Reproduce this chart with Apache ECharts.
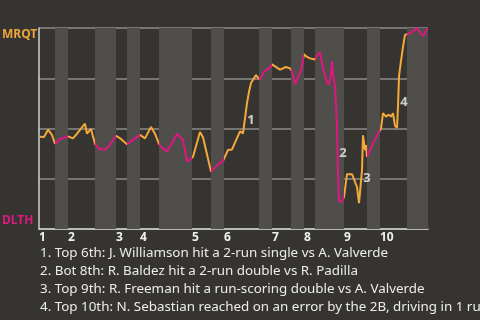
<!DOCTYPE html>
<html><head><meta charset="utf-8">
<script src="https://cdn.jsdelivr.net/npm/echarts@6/dist/echarts.min.js"></script>
<style>html,body{margin:0;padding:0;background:#363430;}#c{width:480px;height:320px;}</style>
</head><body><div id="c"></div>
<script>
// half-inning boundaries along game progress (top1, bot1, top2, ...)
var halfBounds = [0, 16, 29, 56, 77, 88, 101, 120, 153, 172, 185, 220, 233, 252, 265, 276, 305, 328, 341, 368, 389];
var inningLabels = ['1','2','3','4','5','6','7','8','9','10'];
// win probability for MRQT (%) along game progress
var progress = [1,5,9,13,16,21,29,34,38,46,48,52,56,60,66,70,77,82,88,96,101,106,112,116,120,122,128,132,138,144,148,151,154,161,164,172,178,184,189,193,201,204,206,208,210,212,217,219,221,225,231,233,241,247,251,253,256,258,262,265,268,271,276,278,281,284,288,290,292,293,294,296,298,299,300,302,305,308,313,318,320,322,323,324,326,327,328,334,342,344,347,350,352,354,356,358,359,360,362,364,366,368,372,378,384,389];
var winProb = [45.9,45.8,49.4,46.8,42.4,44.8,46.1,45.1,47.4,52.4,47.4,49.8,42.4,39.8,39.4,41.4,46.4,44.8,42.1,45.1,46.8,45.1,50.8,47.4,42.4,40.8,38.6,41.9,47.3,44.3,33.6,34.6,35.9,48.3,45.6,28.6,31.6,33.9,39.3,39.6,48.6,47.6,47.9,62.6,68.3,72.6,76.6,75.3,74.3,78.3,80.3,81.9,79.3,80.6,79.9,78.6,71.9,72.3,78.9,86.9,85.6,84.9,84.3,86.3,87.9,79.9,72.9,71.9,76.9,83.6,76.9,70.9,50.9,27.6,14.3,13.3,15.8,27.3,27.3,20.9,12.9,12.6,29.3,46.6,39.3,41.8,35.9,42.6,50.1,57.6,55.9,56.9,55.9,57.6,51.3,50.3,60.9,75.9,83.6,90.6,96.6,96.9,97.6,100,95.9,100];
// key-play annotations
var noteIds = ['1','2','3','4'];
var noteX = [212, 304, 328, 365];
var noteY = [54, 37.8, 25.4, 63.1];
var noteTexts = [
  '1. Top 6th: J. Williamson hit a 2-run single vs A. Valverde',
  '2. Bot 8th: R. Baldez hit a 2-run double vs R. Padilla',
  '3. Top 9th: R. Freeman hit a run-scoring double vs A. Valverde',
  '4. Top 10th: N. Sebastian reached on an error by the 2B, driving in 1 run'
];
var awayTeam = 'MRQT', homeTeam = 'DLTH';

var ORANGE = '#f5a83a', MAGENTA = '#df1680';
var FONT = 'Noto Sans';

var inningStarts = [];
for (var i = 0; i < halfBounds.length - 1; i += 2) inningStarts.push(halfBounds[i]);

var lineData = progress.map(function (x, i) { return [x, winProb[i]]; });
var pieces = [], bands = [];
for (var i = 0; i < halfBounds.length - 1; i++) {
  var p = {gte: halfBounds[i], color: i % 2 === 0 ? ORANGE : MAGENTA};
  if (i < halfBounds.length - 2) p.lt = halfBounds[i + 1]; else p.lte = halfBounds[i + 1];
  pieces.push(p);
  if (i % 2 === 1) bands.push([{xAxis: halfBounds[i]}, {xAxis: halfBounds[i + 1]}]);
}
var notes = noteIds.map(function (id, i) { return {value: [noteX[i], noteY[i]], name: id}; });

var chart = echarts.init(document.getElementById('c'), null, {renderer: 'canvas'});
chart.setOption({
  backgroundColor: '#363430',
  animation: false,
  grid: {left: 39, right: 52, top: 28, bottom: 91},
  xAxis: {
    type: 'value', min: halfBounds[0], max: halfBounds[halfBounds.length - 1],
    splitLine: {show: false},
    axisLine: {show: true, onZero: false, lineStyle: {color: '#d0d0ce', width: 1.5}},
    axisTick: {show: false},
    axisLabel: {
      show: true, customValues: inningStarts, align: 'left', margin: 3,
      color: '#f0f0f0', fontFamily: FONT, fontWeight: 'bold', fontSize: 12,
      formatter: function (v) { return inningLabels[inningStarts.indexOf(v)]; }
    }
  },
  yAxis: {
    type: 'value', min: 0, max: 100, interval: 25,
    axisLine: {show: true, lineStyle: {color: '#d0d0ce', width: 1.5}},
    axisTick: {show: false}, axisLabel: {show: false},
    splitLine: {show: true, lineStyle: {color: '#8c8b88', width: 1.5}}
  },
  visualMap: {show: false, type: 'piecewise', dimension: 0, seriesIndex: 0, pieces: pieces},
  series: [
    {
      type: 'line', data: lineData, showSymbol: false, z: 3,
      lineStyle: {width: 2},
      markArea: {silent: true, itemStyle: {color: '#4f4e4b'}, data: bands}
    },
    {
      type: 'scatter', data: notes, symbolSize: 0, z: 4,
      label: {show: true, position: 'inside', formatter: '{b}', color: '#f2f2f2',
        fontFamily: FONT, fontWeight: 'bold', fontSize: 13}
    }
  ],
  graphic: [
    {type: 'text', left: 2, top: 29, style: {text: awayTeam, fill: '#eba53c', font: 'bold 12px "Noto Sans"'}},
    {type: 'text', left: 2, top: 215, style: {text: homeTeam, fill: '#dd1a80', font: 'bold 12px "Noto Sans"'}}
  ].concat(noteTexts.map(function (t, i) {
    return {type: 'text', left: 40, top: 247 + i * 18, style: {text: t, fill: '#ececea', font: '13.4px "Noto Sans"'}};
  }))
});
</script></body></html>
